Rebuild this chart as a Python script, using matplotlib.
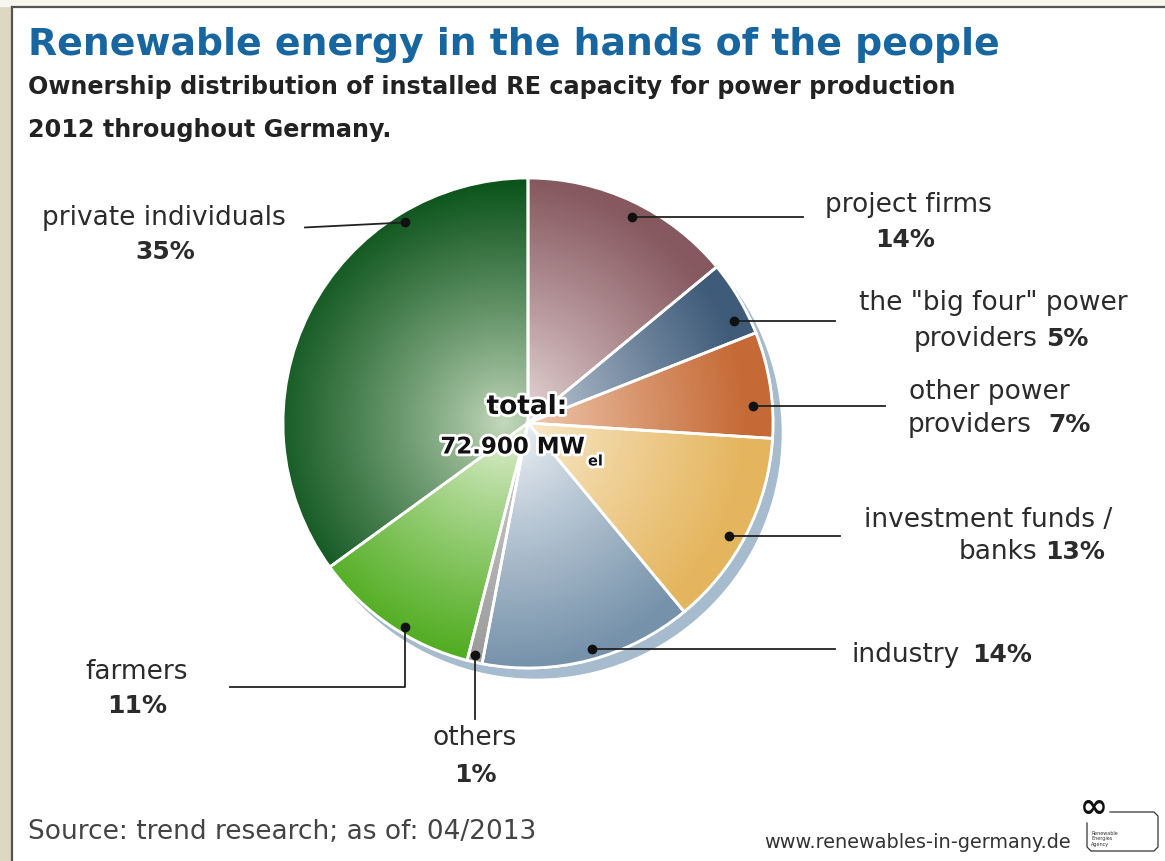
import numpy as np
import matplotlib
matplotlib.use('Agg')
import matplotlib.pyplot as plt
from matplotlib.colors import LinearSegmentedColormap
from matplotlib.patches import Wedge, Circle, Rectangle
import matplotlib.patheffects as pe

# data (clockwise from 12 o'clock)
names = ['project firms', 'big four', 'other power providers', 'investment funds / banks',
         'industry', 'others', 'farmers', 'private individuals']
shares = [14, 5, 7, 13, 14, 1, 11, 35]
edge_colors = ['#86585f', '#3f5b79', '#c56a36', '#e4b55e', '#7692aa', '#999999', '#4dab1c', '#0a521a']
inner_colors = ['#f3e7e7', '#d6dde6', '#f5dac6', '#fcf2dd', '#f7f9fc', '#d8d8d8', '#e7f3da', '#c6dabd']

W, H = 1165, 862
def Y(s):
    return H - s

fig = plt.figure(figsize=(11.65, 8.62), dpi=100)
ax = fig.add_axes([0, 0, 1, 1])

# frame
ax.add_patch(Rectangle((0, 0), 10, H, color='#dcd8c2', zorder=0))
ax.add_patch(Rectangle((0, Y(7)), W, 7, color='#f6f5ef', zorder=0))
ax.plot([11.5, 11.5], [0, Y(7.5)], color='#555555', lw=1.6, zorder=1)
ax.plot([11.5, W], [Y(7.5), Y(7.5)], color='#555555', lw=1.6, zorder=1)

# pie
cx, cy, R = 528, Y(424), 245
ax.add_patch(Circle((cx + 8, cy - 10), R, color='#a7bbce', zorder=1))
wedges, _ = ax.pie(shares, colors=edge_colors, startangle=90, counterclock=False,
                   radius=R, center=(cx, cy),
                   wedgeprops=dict(edgecolor='white', linewidth=2))

n = 500
g = np.linspace(-1, 1, n)
gx, gy = np.meshgrid(g, g)
rr = np.clip(np.hypot(gx + 0.1, gy), 0, 1)
for w, c0, c1 in zip(wedges, inner_colors, edge_colors):
    w.set_zorder(2)
    cm = LinearSegmentedColormap.from_list('g', [c0, c1])
    im = ax.imshow(rr ** 0.85, cmap=cm, vmin=0, vmax=1, origin='lower', aspect='auto',
                   extent=(cx - R, cx + R, cy - R, cy + R), zorder=2.5)
    im.set_clip_path(w)
    ax.add_patch(Wedge(w.center, w.r, w.theta1, w.theta2, fc='none', ec='white', lw=2, zorder=3))

# label anchor dots: (fraction along wedge, fraction of radius)
anchors = [(0.53, 0.94), (0.74, 0.94), (0.69, 0.92), (0.55, 0.94),
           (0.47, 0.96), (0.58, 0.97), (0.42, 0.97), (0.75, 0.96)]
dots = []
for w, (f, rf) in zip(wedges, anchors):
    a = np.deg2rad(w.theta2 - f * (w.theta2 - w.theta1))
    dots.append((cx + rf * R * np.cos(a), cy + rf * R * np.sin(a)))
dx, dy = zip(*dots)
ax.plot(dx, dy, 'o', color='#111111', ms=6, zorder=5)

lc = '#222222'
lw = 1.3
# leader lines
for i, xe in [(0, 803), (1, 835), (2, 885), (3, 840), (4, 835)]:
    ax.plot([dots[i][0], xe], [dots[i][1], dots[i][1]], color=lc, lw=lw, zorder=4)
ax.plot([dots[7][0], 305], [dots[7][1], dots[7][1] - 5], color=lc, lw=lw, zorder=4)
ax.plot([dots[6][0], dots[6][0], 230], [dots[6][1], Y(688), Y(688)], color=lc, lw=lw, zorder=4)
ax.plot([dots[5][0], dots[5][0]], [dots[5][1], Y(720)], color=lc, lw=lw, zorder=4)

tc = '#2b2b2b'
fs = 19
pfs = 18
def lab(x, y, s, ha='center', bold=False, size=None):
    ax.text(x, Y(y), s, ha=ha, va='center', color=tc,
            fontsize=size or (pfs if bold else fs), fontweight='bold' if bold else 'normal')

lab(908, 205, 'project firms')
lab(905, 240, '%d%%' % shares[0], bold=True)
lab(993, 303, 'the "big four" power')
lab(1038, 339, 'providers', ha='right')
lab(1046, 339, '%d%%' % shares[1], ha='left', bold=True)
lab(989, 392, 'other power')
lab(1032, 425, 'providers', ha='right')
lab(1048, 425, '%d%%' % shares[2], ha='left', bold=True)
lab(988, 520, 'investment funds /')
lab(1037, 552, 'banks', ha='right')
lab(1045, 552, '%d%%' % shares[3], ha='left', bold=True)
lab(852, 655, 'industry', ha='left')
lab(972, 655, '%d%%' % shares[4], ha='left', bold=True)
lab(475, 738, 'others')
lab(475, 775, '%d%%' % shares[5], bold=True)
lab(137, 672, 'farmers')
lab(137, 706, '%d%%' % shares[6], bold=True)
lab(164, 218, 'private individuals')
lab(165, 252, '%d%%' % shares[7], bold=True)

# centre text
halo = [pe.withStroke(linewidth=4, foreground='white')]
ax.text(527, Y(408), 'total:', ha='center', va='center', fontsize=19, fontweight='bold',
        color='#111111', path_effects=halo, zorder=6)
ax.text(585, Y(448), '72.900 MW', ha='right', va='center', fontsize=16.5, fontweight='bold',
        color='#111111', path_effects=halo, zorder=6)
ax.text(588, Y(462), 'el', ha='left', va='center', fontsize=10.5, fontweight='bold',
        color='#111111', path_effects=halo, zorder=6)

# titles
renderer = fig.canvas.get_renderer()
def fit(t, width):
    bb = t.get_window_extent(renderer)
    t.set_fontsize(t.get_fontsize() * width / bb.width)

t1 = ax.text(28, Y(45), 'Renewable energy in the hands of the people', ha='left', va='center',
             fontsize=25, fontweight='bold', color='#1766a0')
fit(t1, 972)
t2 = ax.text(28, Y(87), 'Ownership distribution of installed RE capacity for power production',
             ha='left', va='center', fontsize=16, fontweight='bold', color='#222222')
fit(t2, 929)
t3 = ax.text(28, Y(130), '2012 throughout Germany.', ha='left', va='center',
             fontsize=16, fontweight='bold', color='#222222')
t3.set_fontsize(t2.get_fontsize())

t4 = ax.text(28, Y(832), 'Source: trend research; as of: 04/2013', ha='left', va='center',
             fontsize=17, color='#444444')
fit(t4, 507)
t5 = ax.text(764, Y(843), 'www.renewables-in-germany.de', ha='left', va='center',
             fontsize=13, color='#333333')
fit(t5, 307)

# logo
ax.text(1094, Y(807), '\u221e', ha='center', va='center', fontsize=24, fontweight='bold',
        color='#111111')
ax.plot([1110, 1154, 1158, 1158, 1154, 1091, 1087, 1087],
        [Y(813), Y(813), Y(817), Y(848), Y(852), Y(852), Y(848), Y(824)],
        color='#333333', lw=0.9)
ax.text(1091, Y(839), 'Renewable\nEnergies\nAgency', ha='left', va='center', fontsize=3.5,
        color='#333333', linespacing=1.1)

ax.set_xlim(0, W)
ax.set_ylim(0, H)
ax.set_aspect('auto')
ax.axis('off')

fig.savefig('out.png', dpi=100, facecolor='white')
